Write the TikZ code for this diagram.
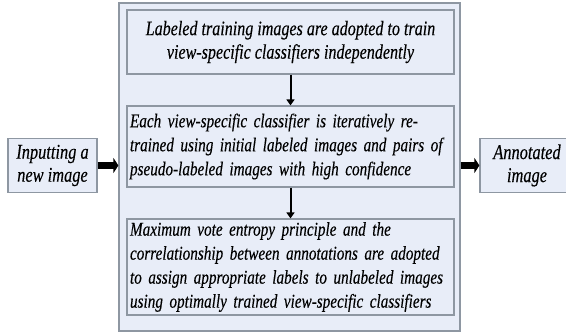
\documentclass[tikz,border=0pt]{standalone}
\usepackage{fontspec}
\newfontfamily\labfont{Liberation Serif}[FakeStretch=0.78,FakeBold=0.25]
\usetikzlibrary{arrows.meta}
\definecolor{boxfill}{HTML}{E8EDF8}
\definecolor{boxline}{HTML}{8E97A2}
\begin{document}
\begin{tikzpicture}[x=1pt,y=-1pt,
  panel/.style={draw=boxline, fill=boxfill, line width=1.2pt, inner sep=0pt,
    font=\labfont\itshape\fontsize{19.5}{24}\selectfont},
  bigtext/.style={font=\labfont\itshape\fontsize{21}{23}\selectfont},
  thickarrow/.style={line width=6.5pt, -{Triangle[width=15pt,length=5pt]}},
  thinarrow/.style={line width=2pt, -{Triangle[width=8pt,length=6pt]}}]
  \clip (0,0) rectangle (566,334);
  % outer frame around the three stages
  \node[panel, minimum width=341pt, minimum height=328pt] (outer) at (289.5,167) {};
  % stages
  \node[panel, minimum width=327pt, minimum height=64pt, align=center,
        font=\labfont\itshape\fontsize{20.6}{23.5}\selectfont] (s1) at (290.5,42)
    {Labeled training images are adopted to train\\view-specific classifiers independently};
  \node[panel, minimum width=327pt, minimum height=81pt, text width=321pt, align=left] (s2) at (290.5,146.5)
    {Each view-specific classifier is iteratively re-\\trained using initial labeled images and pairs of\\pseudo-labeled images with high confidence};
  \node[panel, minimum width=327pt, minimum height=96pt, text width=321pt, align=left] (s3) at (290.5,267)
    {Maximum vote entropy principle and the\\correlationship between annotations are adopted\\to assign appropriate labels to unlabeled images\\using optimally trained view-specific classifiers};
  % input and output
  \node[panel, bigtext, minimum width=89pt, minimum height=54pt, align=center] (in) at (52.5,165.5)
    {Inputting a\\new image};
  \node[panel, bigtext, minimum width=94pt, minimum height=54pt, align=center] (out) at (527,165.5)
    {Annotated\\image};
  % connectors
  \draw[thinarrow] (s1.south) -- (s2.north);
  \draw[thinarrow] (s2.south) -- (s3.north);
  \draw[thickarrow] (in.east) -- (outer.west |- in.east);
  \draw[thickarrow] (outer.east |- out.west) -- (out.west);
\end{tikzpicture}
\end{document}
